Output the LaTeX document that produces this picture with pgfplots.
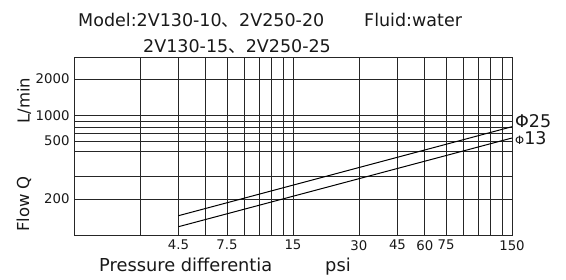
\documentclass[border=0pt]{standalone}
\usepackage{pgfplots}
\pgfplotsset{compat=1.18}
\usepackage{fontspec}
\setmainfont{DejaVu Sans}
\newfontfamily\cjk{Noto Sans CJK SC}
\begin{document}
\begin{tikzpicture}
\useasboundingbox (0,0) rectangle (566bp,280bp);
\begin{axis}[
  at={(74bp,44.3bp)}, anchor=south west,
  scale only axis, width=438bp, height=178bp,
  xmode=log, xmin=1.5, xmax=150, ymin=44.3, ymax=222.3,
  xtick={3,4.5,6,7.5,9,10.5,12,13.5,15,30,45,60,75,90,105,120,135,150},
  xticklabels={,4.5,,7.5,,,,,15,30,45,60,75,,,,,150},
  ytick={201,164.5,159,153,147,139,129,104,81},
  yticklabels={2000,1000,,,,500,,,200},
  minor tick num=0, major tick length=0pt,
  xminorticks=false,
  grid=major,
  grid style={black!85, line width=0.75pt},
  axis line style={black!85, line width=1pt},
  ticklabel style={font=\fontsize{13.3bp}{15bp}\selectfont, black!90},
  xticklabel style={yshift=-1bp},
  yticklabel style={xshift=-1bp},
]
\addplot[black, line width=1pt] coordinates {(4.5,64.3) (150,153.3)};
\addplot[black, line width=1pt] coordinates {(4.5,53.3) (150,142.0)};
\end{axis}
\begin{scope}[every node/.style={inner sep=0pt, text=black!90}]
\node[anchor=base west, font=\fontsize{17.5bp}{20bp}\selectfont] at (78bp,253bp) {Model:2V130-10{\cjk 、}2V250-20};
\node[anchor=base west, font=\fontsize{17.5bp}{20bp}\selectfont] at (364bp,253bp) {Fluid:water};
\node[anchor=base west, font=\fontsize{17.5bp}{20bp}\selectfont] at (143bp,227.3bp) {2V130-15{\cjk 、}2V250-25};
\node[anchor=base west, font=\fontsize{17.8bp}{20bp}\selectfont] at (99bp,8.3bp) {Pressure differentia};
\node[anchor=base west, font=\fontsize{17.8bp}{20bp}\selectfont] at (325bp,8.3bp) {psi};
\node[rotate=90, font=\fontsize{16.5bp}{20bp}\selectfont] at (24bp,179.5bp) {L/min};
\node[rotate=90, font=\fontsize{16.5bp}{20bp}\selectfont] at (24bp,76bp) {Flow Q};
\node[anchor=west, font=\fontsize{17.5bp}{20bp}\selectfont] at (515bp,159.3bp) {Φ25};
\node[anchor=west, font=\fontsize{17.5bp}{20bp}\selectfont] at (515bp,141.7bp) {{\fontsize{11.5bp}{13bp}\selectfont Φ}13};
\end{scope}
\end{tikzpicture}
\end{document}
